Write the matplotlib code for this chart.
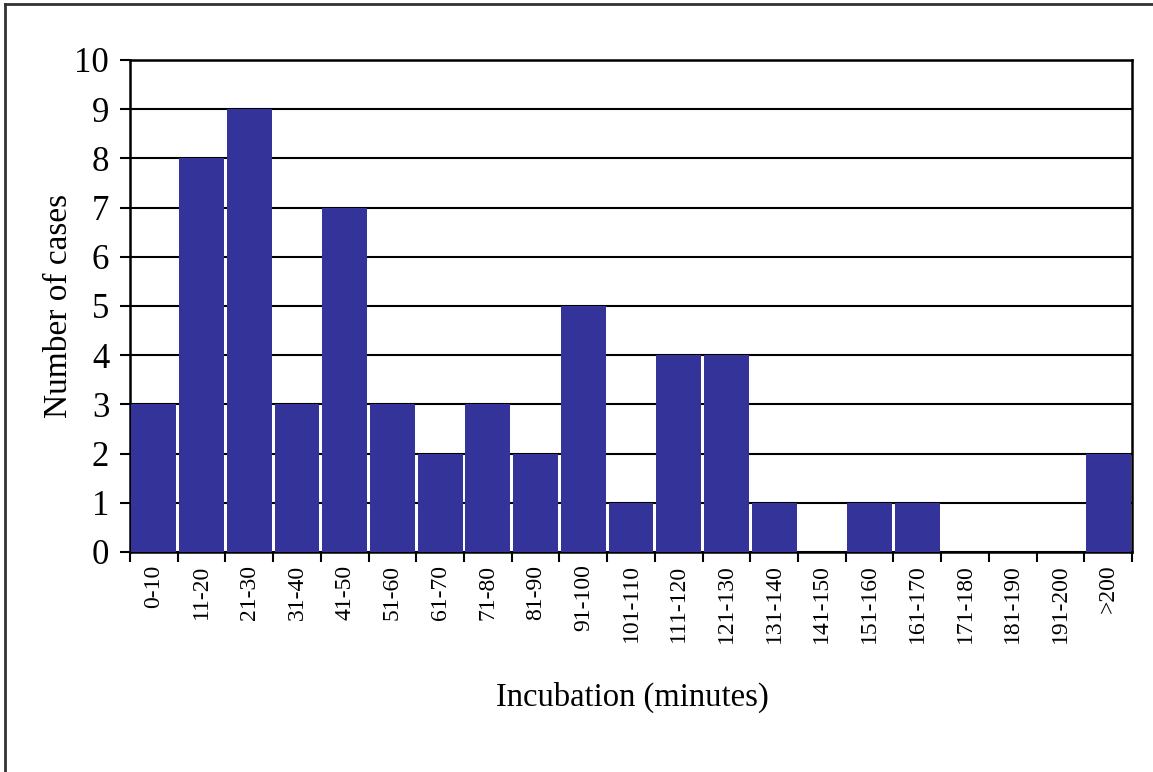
import matplotlib
matplotlib.use("Agg")
import matplotlib.pyplot as plt
import numpy as np
from matplotlib.lines import Line2D

categories = ["0-10", "11-20", "21-30", "31-40", "41-50", "51-60", "61-70", "71-80",
              "81-90", "91-100", "101-110", "111-120", "121-130", "131-140", "141-150",
              "151-160", "161-170", "171-180", "181-190", "191-200", ">200"]
cases = [3, 8, 9, 3, 7, 3, 2, 3, 2, 5, 1, 4, 4, 1, 0, 1, 1, 0, 0, 0, 2]
y_ticks = list(range(0, 11))

plt.rcParams['font.family'] = ['Liberation Serif', 'DejaVu Serif']

W, H = 1153, 772
fig = plt.figure(figsize=(W / 100, H / 100), dpi=100)
ax = fig.add_axes([130 / W, 1 - 552 / H, (1132 - 130) / W, (552 - 60) / H])

x = np.arange(len(categories))
ax.bar(x, cases, width=0.94, color="#333399", zorder=3)

ax.set_xlim(-0.5, len(categories) - 0.5)
ax.set_ylim(0, 10)
ax.set_yticks(y_ticks)
ax.set_yticklabels([str(v) for v in y_ticks], fontsize=25)
ax.yaxis.grid(True, color="black", linewidth=1.5, zorder=0)
ax.set_axisbelow(True)

ax.set_xticks(np.arange(len(categories) + 1) - 0.5)
ax.set_xticklabels([])
ax.set_xticks(x, minor=True)
ax.set_xticklabels(categories, minor=True, rotation=90, fontsize=17)
ax.tick_params(axis='x', which='minor', length=0, pad=9)
ax.tick_params(axis='x', which='major', direction='out', length=7, width=1.5)
ax.tick_params(axis='y', direction='out', length=7, width=1.5, pad=8)

for s in ax.spines.values():
    s.set_linewidth(1.8)
    s.set_color("black")

ax.set_ylabel("Number of cases", fontsize=24, labelpad=0)
fig.text(632 / W, 1 - 697 / H, "Incubation (minutes)", fontsize=23.5, ha="center", va="center")

# outer frame lines (top and left)
fig.add_artist(Line2D([5 / W, 1], [1 - 4 / H, 1 - 4 / H], color="#333333", linewidth=2, transform=fig.transFigure))
fig.add_artist(Line2D([5 / W, 5 / W], [0, 1 - 4 / H], color="#333333", linewidth=2, transform=fig.transFigure))

fig.savefig("out.png", dpi=100, facecolor="white")
